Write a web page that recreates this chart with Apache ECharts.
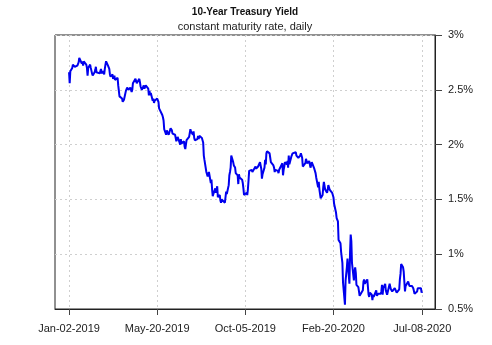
<!DOCTYPE html>
<html>
<head>
<meta charset="utf-8">
<script src="https://cdn.jsdelivr.net/npm/echarts@6/dist/echarts.min.js"></script>
<style>html,body{margin:0;padding:0;background:#fff}#c{width:492px;height:345px}</style>
</head>
<body>
<div id="c"></div>
<script>
// 10-Year Treasury constant maturity rate, daily (percent)
const dates = [
'2019-01-02','2019-01-03','2019-01-04','2019-01-07','2019-01-08','2019-01-09','2019-01-10','2019-01-11','2019-01-14','2019-01-15','2019-01-16','2019-01-17','2019-01-18','2019-01-22','2019-01-23','2019-01-24','2019-01-25','2019-01-28','2019-01-29','2019-01-30','2019-01-31',
'2019-02-01','2019-02-04','2019-02-05','2019-02-06','2019-02-07','2019-02-08','2019-02-11','2019-02-12','2019-02-13','2019-02-14','2019-02-15','2019-02-19','2019-02-20','2019-02-21','2019-02-22','2019-02-25','2019-02-26','2019-02-27','2019-02-28',
'2019-03-01','2019-03-04','2019-03-05','2019-03-06','2019-03-07','2019-03-08','2019-03-11','2019-03-12','2019-03-13','2019-03-14','2019-03-15','2019-03-18','2019-03-19','2019-03-20','2019-03-21','2019-03-22','2019-03-25','2019-03-26','2019-03-27','2019-03-28','2019-03-29',
'2019-04-01','2019-04-02','2019-04-03','2019-04-04','2019-04-05','2019-04-08','2019-04-09','2019-04-10','2019-04-11','2019-04-12','2019-04-15','2019-04-16','2019-04-17','2019-04-18','2019-04-22','2019-04-23','2019-04-24','2019-04-25','2019-04-26','2019-04-29','2019-04-30',
'2019-05-01','2019-05-02','2019-05-03','2019-05-06','2019-05-07','2019-05-08','2019-05-09','2019-05-10','2019-05-13','2019-05-14','2019-05-15','2019-05-16','2019-05-17','2019-05-20','2019-05-21','2019-05-22','2019-05-23','2019-05-24','2019-05-28','2019-05-29','2019-05-30','2019-05-31',
'2019-06-03','2019-06-04','2019-06-05','2019-06-06','2019-06-07','2019-06-10','2019-06-11','2019-06-12','2019-06-13','2019-06-14','2019-06-17','2019-06-18','2019-06-19','2019-06-20','2019-06-21','2019-06-24','2019-06-25','2019-06-26','2019-06-27','2019-06-28',
'2019-07-01','2019-07-02','2019-07-03','2019-07-05','2019-07-08','2019-07-09','2019-07-10','2019-07-11','2019-07-12','2019-07-15','2019-07-16','2019-07-17','2019-07-18','2019-07-19','2019-07-22','2019-07-23','2019-07-24','2019-07-25','2019-07-26','2019-07-29','2019-07-30','2019-07-31',
'2019-08-01','2019-08-02','2019-08-05','2019-08-06','2019-08-07','2019-08-08','2019-08-09','2019-08-12','2019-08-13','2019-08-14','2019-08-15','2019-08-16','2019-08-19','2019-08-20','2019-08-21','2019-08-22','2019-08-23','2019-08-26','2019-08-27','2019-08-28','2019-08-29','2019-08-30',
'2019-09-03','2019-09-04','2019-09-05','2019-09-06','2019-09-09','2019-09-10','2019-09-11','2019-09-12','2019-09-13','2019-09-16','2019-09-17','2019-09-18','2019-09-19','2019-09-20','2019-09-23','2019-09-24','2019-09-25','2019-09-26','2019-09-27','2019-09-30',
'2019-10-01','2019-10-02','2019-10-03','2019-10-04','2019-10-07','2019-10-08','2019-10-09','2019-10-10','2019-10-11','2019-10-15','2019-10-16','2019-10-17','2019-10-18','2019-10-21','2019-10-22','2019-10-23','2019-10-24','2019-10-25','2019-10-28','2019-10-29','2019-10-30','2019-10-31',
'2019-11-01','2019-11-04','2019-11-05','2019-11-06','2019-11-07','2019-11-08','2019-11-12','2019-11-13','2019-11-14','2019-11-15','2019-11-18','2019-11-19','2019-11-20','2019-11-21','2019-11-22','2019-11-25','2019-11-26','2019-11-27','2019-11-29',
'2019-12-02','2019-12-03','2019-12-04','2019-12-05','2019-12-06','2019-12-09','2019-12-10','2019-12-11','2019-12-12','2019-12-13','2019-12-16','2019-12-17','2019-12-18','2019-12-19','2019-12-20','2019-12-23','2019-12-24','2019-12-26','2019-12-27','2019-12-30','2019-12-31',
'2020-01-02','2020-01-03','2020-01-06','2020-01-07','2020-01-08','2020-01-09','2020-01-10','2020-01-13','2020-01-14','2020-01-15','2020-01-16','2020-01-17','2020-01-21','2020-01-22','2020-01-23','2020-01-24','2020-01-27','2020-01-28','2020-01-29','2020-01-30','2020-01-31',
'2020-02-03','2020-02-04','2020-02-05','2020-02-06','2020-02-07','2020-02-10','2020-02-11','2020-02-12','2020-02-13','2020-02-14','2020-02-18','2020-02-19','2020-02-20','2020-02-21','2020-02-24','2020-02-25','2020-02-26','2020-02-27','2020-02-28',
'2020-03-02','2020-03-03','2020-03-04','2020-03-05','2020-03-06','2020-03-09','2020-03-10','2020-03-11','2020-03-12','2020-03-13','2020-03-16','2020-03-17','2020-03-18','2020-03-19','2020-03-20','2020-03-23','2020-03-24','2020-03-25','2020-03-26','2020-03-27','2020-03-30','2020-03-31',
'2020-04-01','2020-04-02','2020-04-03','2020-04-06','2020-04-07','2020-04-08','2020-04-09','2020-04-13','2020-04-14','2020-04-15','2020-04-16','2020-04-17','2020-04-20','2020-04-21','2020-04-22','2020-04-23','2020-04-24','2020-04-27','2020-04-28','2020-04-29','2020-04-30',
'2020-05-01','2020-05-04','2020-05-05','2020-05-06','2020-05-07','2020-05-08','2020-05-11','2020-05-12','2020-05-13','2020-05-14','2020-05-15','2020-05-18','2020-05-19','2020-05-20','2020-05-21','2020-05-22','2020-05-26','2020-05-27','2020-05-28','2020-05-29',
'2020-06-01','2020-06-02','2020-06-03','2020-06-04','2020-06-05','2020-06-08','2020-06-09','2020-06-10','2020-06-11','2020-06-12','2020-06-15','2020-06-16','2020-06-17','2020-06-18','2020-06-19','2020-06-22','2020-06-23','2020-06-24','2020-06-25','2020-06-26','2020-06-29','2020-06-30',
'2020-07-01','2020-07-02','2020-07-06','2020-07-07','2020-07-08'
];
const yields = [
2.66,2.56,2.67,2.70,2.73,2.73,2.74,2.71,2.71,2.72,2.73,2.75,2.79,2.74,2.76,2.72,2.76,2.75,2.73,2.70,2.63,
2.70,2.73,2.70,2.70,2.65,2.63,2.66,2.68,2.71,2.66,2.66,2.65,2.65,2.69,2.65,2.67,2.64,2.69,2.73,
2.76,2.72,2.72,2.69,2.64,2.62,2.64,2.60,2.61,2.63,2.59,2.60,2.61,2.54,2.54,2.44,2.43,2.42,2.39,2.39,2.41,
2.49,2.48,2.52,2.51,2.50,2.52,2.50,2.48,2.50,2.56,2.55,2.60,2.59,2.56,2.60,2.57,2.53,2.53,2.50,2.54,2.51,
2.52,2.54,2.54,2.51,2.45,2.49,2.45,2.47,2.40,2.42,2.38,2.40,2.39,2.42,2.43,2.39,2.33,2.32,2.27,2.25,2.22,2.14,
2.09,2.13,2.12,2.12,2.09,2.15,2.14,2.13,2.10,2.09,2.09,2.06,2.03,2.02,2.07,2.02,2.00,2.05,2.01,2.00,
2.03,1.98,1.96,2.04,2.05,2.07,2.06,2.14,2.12,2.09,2.12,2.06,2.04,2.05,2.05,2.08,2.05,2.08,2.08,2.06,2.06,2.02,
1.90,1.86,1.75,1.73,1.71,1.72,1.75,1.65,1.68,1.59,1.53,1.55,1.60,1.56,1.59,1.62,1.52,1.54,1.49,1.47,1.50,1.50,
1.47,1.47,1.57,1.55,1.63,1.72,1.75,1.79,1.90,1.84,1.81,1.80,1.79,1.74,1.72,1.64,1.73,1.70,1.69,1.68,
1.65,1.60,1.54,1.53,1.56,1.54,1.59,1.67,1.76,1.77,1.75,1.76,1.76,1.80,1.78,1.77,1.77,1.80,1.84,1.85,1.78,1.69,
1.73,1.79,1.86,1.82,1.92,1.94,1.92,1.88,1.84,1.84,1.81,1.79,1.75,1.77,1.77,1.76,1.74,1.77,1.78,
1.83,1.72,1.77,1.80,1.84,1.82,1.85,1.79,1.90,1.82,1.89,1.89,1.92,1.92,1.92,1.93,1.90,1.90,1.88,1.90,1.92,
1.88,1.80,1.81,1.83,1.87,1.85,1.83,1.85,1.82,1.79,1.81,1.84,1.78,1.77,1.74,1.70,1.61,1.66,1.59,1.59,1.51,
1.54,1.61,1.66,1.65,1.59,1.56,1.59,1.63,1.62,1.59,1.56,1.56,1.52,1.46,1.38,1.33,1.33,1.30,1.13,
1.10,1.02,1.02,0.92,0.74,0.54,0.76,0.82,0.88,0.96,0.73,1.02,1.18,1.12,0.92,0.76,0.84,0.88,0.83,0.72,0.70,0.70,
0.62,0.63,0.62,0.67,0.75,0.77,0.73,0.77,0.76,0.63,0.61,0.65,0.63,0.58,0.63,0.61,0.60,0.67,0.62,0.63,0.64,
0.64,0.64,0.66,0.72,0.63,0.69,0.73,0.67,0.66,0.63,0.64,0.73,0.70,0.68,0.67,0.66,0.69,0.69,0.70,0.65,
0.66,0.68,0.77,0.82,0.91,0.88,0.84,0.75,0.66,0.71,0.72,0.75,0.74,0.71,0.70,0.71,0.72,0.69,0.68,0.64,0.64,0.66,
0.69,0.68,0.69,0.65,0.66
];
const xTickDates = ['2019-01-02','2019-05-20','2019-10-05','2020-02-20','2020-07-08'];
const yTicks = [0.5,1,1.5,2,2.5,3];
const xRange = ['2018-12-11','2020-07-28'];

const MON = ['Jan','Feb','Mar','Apr','May','Jun','Jul','Aug','Sep','Oct','Nov','Dec'];
function ts(s){const p=s.split('-').map(Number);return Date.UTC(p[0],p[1]-1,p[2]);}
function fmt(v){const d=new Date(v);const dd=String(d.getUTCDate()).padStart(2,'0');return MON[d.getUTCMonth()]+'-'+dd+'-'+d.getUTCFullYear();}

const seriesData = dates.map((d,i)=>[ts(d),yields[i]]);
const xTicks = xTickDates.map(ts);

const chart = echarts.init(document.getElementById('c'),null,{renderer:'canvas'});
chart.setOption({
  animation:false,
  backgroundColor:'#fff',
  textStyle:{fontFamily:'Liberation Sans, Arial, sans-serif'},
  title:[
    {text:'10-Year Treasury Yield',left:245,top:7,padding:0,textAlign:'center',
     textStyle:{fontSize:10,fontWeight:'bold',color:'#111',fontFamily:'Liberation Sans, Arial, sans-serif'}},
    {text:'constant maturity rate, daily',left:245,top:21,padding:0,textAlign:'center',
     textStyle:{fontSize:11,fontWeight:'normal',color:'#222',fontFamily:'Liberation Sans, Arial, sans-serif'}}
  ],
  grid:{left:55,right:57,top:35,bottom:36,show:true,borderColor:'#222',borderWidth:1,backgroundColor:'transparent'},
  xAxis:{
    type:'value',min:ts(xRange[0]),max:ts(xRange[1]),
    axisLine:{show:true,lineStyle:{color:'#222',width:1}},
    axisTick:{show:true,length:6,customValues:xTicks,lineStyle:{color:'#444'}},
    axisLabel:{customValues:xTicks,formatter:fmt,fontSize:11,color:'#222',margin:14},
    splitLine:{show:true,lineStyle:{color:'#cfcfcf',type:[2,3],width:1}}
  },
  yAxis:{
    type:'value',position:'right',min:0.5,max:3,interval:0.5,
    axisLine:{show:true,lineStyle:{color:'#222',width:1}},
    axisTick:{show:true,length:7,lineStyle:{color:'#444'}},
    axisLabel:{formatter:v=>v+'%',fontSize:11,color:'#222',margin:13},
    splitLine:{show:true,lineStyle:{color:'#cfcfcf',type:[2,3],width:1}}
  },
  series:[{
    type:'line',data:seriesData,showSymbol:false,symbol:'none',
    lineStyle:{color:'#0000ee',width:2},
    clip:true
  }]
});
</script>
</body>
</html>
